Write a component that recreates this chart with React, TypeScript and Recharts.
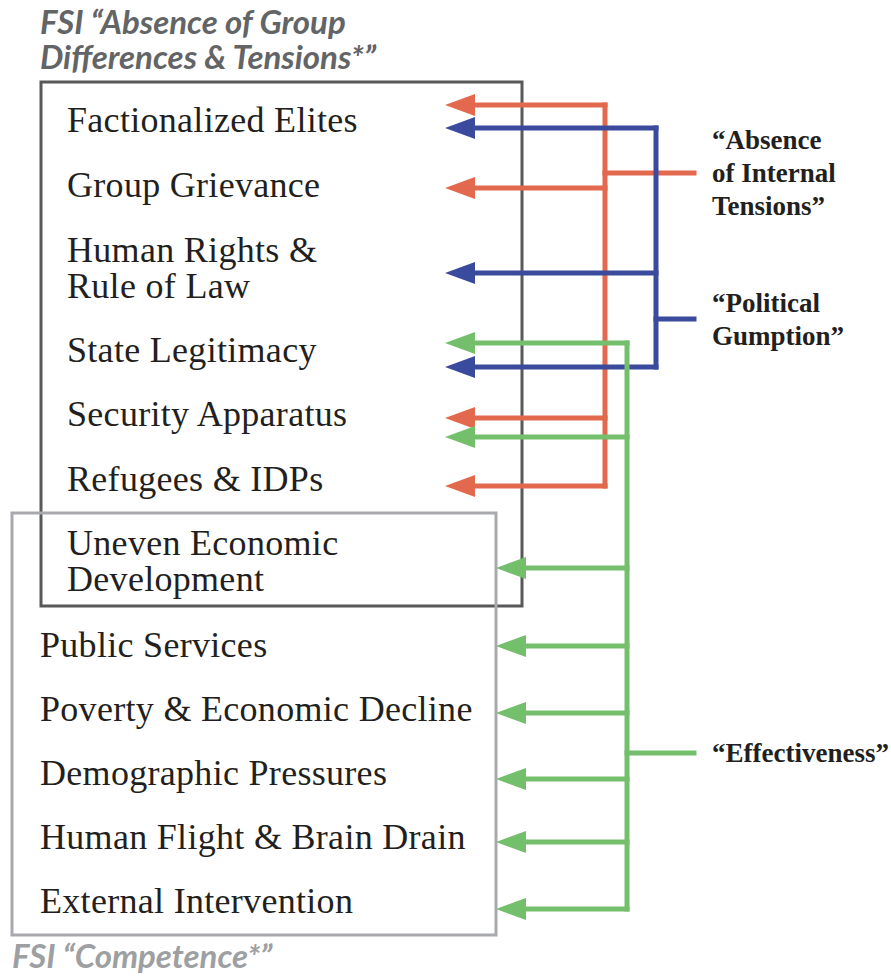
import React from 'react'
import { ComposedChart, XAxis, YAxis, Line, Scatter, ReferenceArea } from 'recharts'

// FSI indicators, top to bottom ("|" splits a two-line label)
const items = [
  'Factionalized Elites',
  'Group Grievance',
  'Human Rights &|Rule of Law',
  'State Legitimacy',
  'Security Apparatus',
  'Refugees & IDPs',
  'Uneven Economic|Development',
  'Public Services',
  'Poverty & Economic Decline',
  'Demographic Pressures',
  'Human Flight & Brain Drain',
  'External Intervention',
]
const itemY = [120, 185, 268, 350, 414, 479, 561, 645, 709, 773, 837, 901]

// which indicators sit in which FSI box
const groupDiffItems = [0, 1, 2, 3, 4, 5, 6]
const competenceItems = [6, 7, 8, 9, 10, 11]

// the three re-grouped dimensions and the arrows they send back
const tensionItems = [0, 1, 4, 5]
const tensionArrowY = [105, 188, 418, 486]
const gumptionItems = [0, 2, 3]
const gumptionArrowY = [128, 273, 367]
const effectItems = [3, 4, 6, 7, 8, 9, 10, 11]
const effectArrowY = [343, 437, 568, 646, 713, 779, 842, 909]

const tensionLabel = ['“Absence', 'of Internal', 'Tensions”']
const gumptionLabel = ['“Political', 'Gumption”']
const effectLabel = ['“Effectiveness”']
const labelStubY = [173, 319, 753]

const boxTitles = ['FSI “Absence of Group', 'Differences & Tensions*”']
const competenceTitle = 'FSI “Competence*”'

const W = 891
const H = 978
const INNER_TIP = 445
const OUTER_TIP = 496
const HEAD = 30
const STUB_END = 694
const LABEL_X = 712

const groups = [
  { key: 'tension', color: '#e2694e', trunk: 605, items: tensionItems, ys: tensionArrowY, label: tensionLabel, stub: labelStubY[0] },
  { key: 'gumption', color: '#3a4b9e', trunk: 656, items: gumptionItems, ys: gumptionArrowY, label: gumptionLabel, stub: labelStubY[1] },
  { key: 'effect', color: '#74bf6b', trunk: 627, items: effectItems, ys: effectArrowY, label: effectLabel, stub: labelStubY[2] },
]

const tipX = (i: number) => (competenceItems.includes(i) ? OUTER_TIP : INNER_TIP)

const lineProps = {
  dataKey: 'y',
  dot: false,
  activeDot: false,
  isAnimationActive: false,
  strokeWidth: 5,
  strokeLinecap: 'square' as const,
  type: 'linear' as const,
  legendType: 'none' as const,
}

function ItemText(props: any) {
  const { cx, cy, payload } = props
  const lines: string[] = payload.label.split('|')
  const off = lines.length === 1 ? [0] : [-18, 18]
  return (
    <g>
      {lines.map((l, k) => (
        <text
          key={k}
          x={cx}
          y={cy + off[k]}
          dy="0.34em"
          fontFamily="'Liberation Serif', serif"
          fontSize={36}
          letterSpacing={0.3}
          fill="#231f20"
        >
          {l}
        </text>
      ))}
    </g>
  )
}

function GroupText(props: any) {
  const { cx, cy, payload } = props
  const lines: string[] = payload.label
  const step = 33
  const start = -((lines.length - 1) * step) / 2
  return (
    <g>
      {lines.map((l, k) => (
        <text
          key={k}
          x={cx}
          y={cy + start + k * step}
          dy="0.34em"
          fontFamily="'Liberation Serif', serif"
          fontWeight="bold"
          fontSize={27}
          fill="#231f20"
        >
          {l}
        </text>
      ))}
    </g>
  )
}

function TitleText(props: any) {
  const { cx, cy, payload } = props
  return (
    <text
      x={cx}
      y={cy}
      fontFamily="Lato, sans-serif"
      fontStyle="italic"
      fontWeight="bold"
      fontSize={33}
      fill={payload.color}
    >
      {payload.label}
    </text>
  )
}

const arrowShape = (color: string) => (props: any) => {
  const { cx, cy } = props
  return (
    <polygon
      points={`${cx},${cy} ${cx + HEAD},${cy - 11} ${cx + HEAD},${cy + 11}`}
      fill={color}
    />
  )
}

export default function App() {
  const textX = (i: number) => (groupDiffItems.includes(i) ? 67 : 40)
  const itemPts = items.map((label, i) => ({ x: textX(i), y: itemY[i], label }))
  const titlePts = [
    { x: 40, y: 34, label: boxTitles[0], color: '#636466' },
    { x: 40, y: 69, label: boxTitles[1], color: '#636466' },
    { x: 12, y: 968, label: competenceTitle, color: '#9d9fa2' },
  ]

  return (
    <div style={{ position: 'absolute', left: 0, top: 0, width: W, height: H, background: '#fff' }}>
      <ComposedChart width={W} height={H} margin={{ top: 0, right: 0, bottom: 0, left: 0 }}>
        <XAxis type="number" dataKey="x" domain={[0, W]} allowDataOverflow hide />
        <YAxis type="number" dataKey="y" domain={[0, H]} allowDataOverflow reversed hide />

        {groups.map((g) => {
          const top = Math.min(...g.ys)
          const bottom = Math.max(...g.ys)
          return (
            <React.Fragment key={g.key}>
              <Line
                {...lineProps}
                data={[{ x: g.trunk, y: top }, { x: g.trunk, y: bottom }]}
                stroke={g.color}
              />
              <Line
                {...lineProps}
                data={[{ x: g.trunk, y: g.stub }, { x: STUB_END, y: g.stub }]}
                stroke={g.color}
              />
              {g.items.map((it, k) => (
                <Line
                  key={`${g.key}-${k}`}
                  {...lineProps}
                  data={[{ x: tipX(it) + HEAD - 4, y: g.ys[k] }, { x: g.trunk, y: g.ys[k] }]}
                  stroke={g.color}
                />
              ))}
              <Scatter
                data={g.items.map((it, k) => ({ x: tipX(it), y: g.ys[k] }))}
                shape={arrowShape(g.color)}
                isAnimationActive={false}
                legendType="none"
              />
              <Scatter
                data={[{ x: LABEL_X, y: g.stub, label: g.label }]}
                shape={GroupText}
                isAnimationActive={false}
                legendType="none"
              />
            </React.Fragment>
          )
        })}

        <ReferenceArea x1={41} x2={522} y1={82} y2={606} fill="none" stroke="#58595b" strokeWidth={3} ifOverflow="visible" />
        <ReferenceArea x1={12} x2={496} y1={513} y2={935} fill="none" stroke="#a7a9ac" strokeWidth={3} ifOverflow="visible" />

        <Scatter data={itemPts} shape={ItemText} isAnimationActive={false} legendType="none" />
        <Scatter data={titlePts} shape={TitleText} isAnimationActive={false} legendType="none" />
      </ComposedChart>
    </div>
  )
}
